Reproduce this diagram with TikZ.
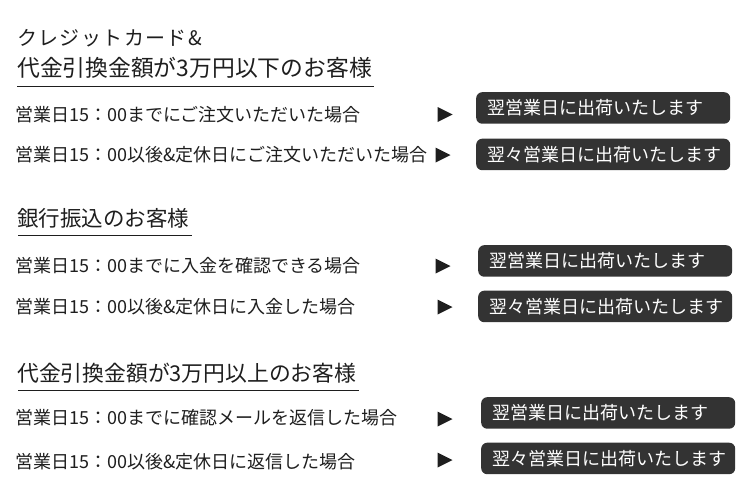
\documentclass[tikz,border=0pt]{standalone}
\usepackage{fontspec}
\setmainfont{Noto Sans CJK JP}
\definecolor{ink}{HTML}{1E1E1E}
\definecolor{boxfill}{HTML}{333333}
\newcommand{\badgetext}[1]{\makebox[232pt][l]{#1}}
\begin{document}
\begin{tikzpicture}[x=1pt,y=-1pt,
  txt/.style={anchor=base west,inner sep=0pt,text=ink},
  rowtext/.style={txt,font=\fontsize{18}{20}\selectfont},
  badge/.style={anchor=north west,fill=boxfill,rounded corners=6pt,minimum width=254pt,
    minimum height=31.5pt,inner xsep=11pt,inner ysep=0pt,
    text=white,font=\fontsize{18}{20}\selectfont,text height=15.84pt,text depth=2.16pt},
  tri/.style={fill=ink},
  rule/.style={draw=ink,line width=1pt}]
\useasboundingbox (0,0) rectangle (750,498);

% Section 1
\node[txt,font=\fontsize{20}{22}\selectfont] (t1) at (17,45.6) {ク\hspace{1.4pt}レ\hspace{1.4pt}ジ\hspace{1.4pt}ッ\hspace{1.4pt}ト\hspace{1.4pt}カ\hspace{1.4pt}ー\hspace{1.4pt}ド\hspace{1.4pt}\&};
\node[txt,font=\fontsize{22.8}{24}\selectfont] (h1) at (17,76.2) {代金引換金額が3万円以下のお客様};
\draw[rule] (17,86) -- (374,86);

\node[rowtext] (r1) at (15,121.4) {営業日15：00までにご注文いただいた場合};
\node[rowtext] (r2) at (15,161.4) {営業日15：00以後\&定休日にご注文いただいた場合};
\coordinate (a1) at (445,114.5);
\coordinate (a2) at (443,155);
\fill[tri] (a1) ++(-7.5,-7.5) -- ++(15,7.5) -- ++(-15,7.5) -- cycle;
\fill[tri] (a2) ++(-7.5,-7.5) -- ++(15,7.5) -- ++(-15,7.5) -- cycle;
\node[badge] (b1) at (476,92) {\badgetext{翌営業日に出荷いたします}};
\node[badge] (b2) at (476,138.5) {\badgetext{翌々営業日に出荷いたします}};

% Section 2
\node[txt,font=\fontsize{21.5}{24}\selectfont] (h2) at (17,226.2) {銀行振込のお客様};
\draw[rule] (18,235.5) -- (192,235.5);
\node[rowtext] (r3) at (15,272.8) {営業日15：00までに入金を確認できる場合};
\node[rowtext] (r4) at (15,313.3) {営業日15：00以後\&定休日に入金した場合};
\coordinate (a3) at (443,266);
\coordinate (a4) at (445,307);
\fill[tri] (a3) ++(-7.5,-7.5) -- ++(15,7.5) -- ++(-15,7.5) -- cycle;
\fill[tri] (a4) ++(-7.5,-7.5) -- ++(15,7.5) -- ++(-15,7.5) -- cycle;
\node[badge] (b3) at (478,245) {\badgetext{翌営業日に出荷いたします}};
\node[badge] (b4) at (478,290.5) {\badgetext{翌々営業日に出荷いたします}};

% Section 3
\node[txt,font=\fontsize{21.8}{24}\selectfont] (h3) at (17,381.3) {代金引換金額が3万円以上のお客様};
\draw[rule] (18,390.5) -- (359,390.5);
\node[rowtext] (r5) at (15,424.8) {営業日15：00までに確認メールを返信した場合};
\node[rowtext] (r6) at (15,468.3) {営業日15：00以後\&定休日に返信した場合};
\coordinate (a5) at (445,419);
\coordinate (a6) at (445,460);
\fill[tri] (a5) ++(-7.5,-7.5) -- ++(15,7.5) -- ++(-15,7.5) -- cycle;
\fill[tri] (a6) ++(-7.5,-7.5) -- ++(15,7.5) -- ++(-15,7.5) -- cycle;
\node[badge] (b5) at (481,397) {\badgetext{翌営業日に出荷いたします}};
\node[badge] (b6) at (481,442.5) {\badgetext{翌々営業日に出荷いたします}};
\end{tikzpicture}
\end{document}
